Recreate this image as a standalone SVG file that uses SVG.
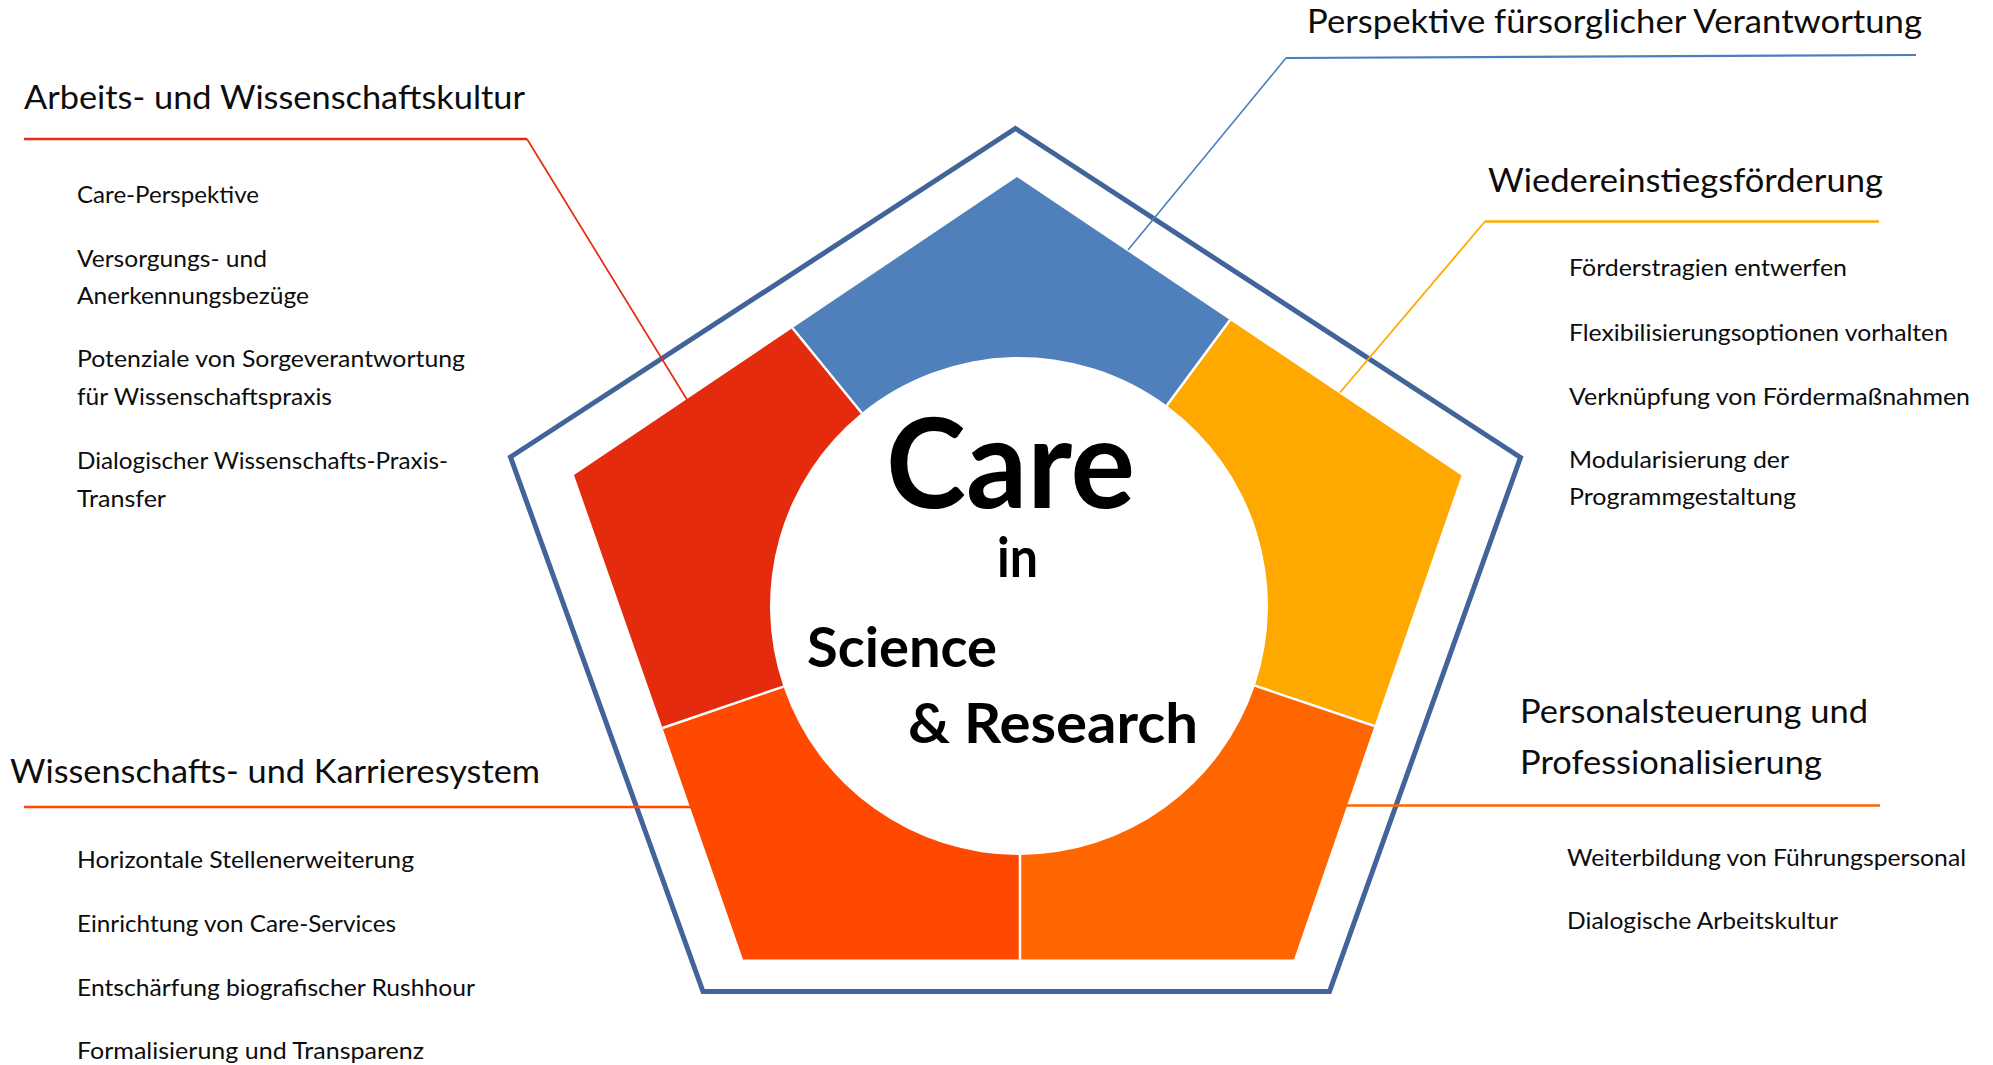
<svg xmlns="http://www.w3.org/2000/svg" width="1993" height="1065" viewBox="0 0 1993 1065">
  <defs>
    <style>
      text { font-family: Lato, "Liberation Sans", "DejaVu Sans", sans-serif; fill: #0d0d0d; }
      .head { font-size: 33px; }
      .item { font-size: 24px; }
      .core { font-weight: 700; fill: #000; }
      .frame { fill: none; stroke: #41649a; stroke-width: 5; stroke-linejoin: miter; }
      .divider { stroke: #ffffff; stroke-width: 2.5; }
      .lead { fill: none; stroke-linecap: butt; stroke-linejoin: miter; }
    </style>
  </defs>

  <rect x="0" y="0" width="1993" height="1065" fill="#ffffff"/>

  <!-- outer frame -->
  <polygon class="frame" points="1015.5,128.5 1520.5,457.5 1329.5,991.5 703,991.5 510.5,457"/>

  <!-- top segment -->
  <g id="perspektive-fuersorglicher-verantwortung">
    <path d="M792.5,328 L1017,177 L1230,320 L1166.8,405.6 A249,249 0 0 0 861.7,413 Z" fill="#4f80bc"/>
    <text class="head" x="1307" y="33" textLength="615" lengthAdjust="spacingAndGlyphs">Perspektive fürsorglicher Verantwortung</text>
  </g>

  <!-- upper right segment -->
  <g id="wiedereinstiegsfoerderung">
    <path d="M1230,320 L1461.5,475.5 L1374.5,726 L1254.9,685.6 A249,249 0 0 0 1166.8,405.6 Z" fill="#ffa800"/>
    <text class="head" x="1488" y="192" textLength="395" lengthAdjust="spacingAndGlyphs">Wiedereinstiegsförderung</text>
    <text class="item" x="1569" y="276" textLength="278" lengthAdjust="spacingAndGlyphs">Förderstragien entwerfen</text>
    <text class="item" x="1569" y="341" textLength="379" lengthAdjust="spacingAndGlyphs">Flexibilisierungsoptionen vorhalten</text>
    <text class="item" x="1569" y="405" textLength="401" lengthAdjust="spacingAndGlyphs">Verknüpfung von Fördermaßnahmen</text>
    <text class="item" x="1569" y="468" textLength="220" lengthAdjust="spacingAndGlyphs">Modularisierung der</text>
    <text class="item" x="1569" y="505" textLength="227" lengthAdjust="spacingAndGlyphs">Programmgestaltung</text>
  </g>

  <!-- lower right segment -->
  <g id="personalsteuerung-professionalisierung">
    <path d="M1374.5,726 L1294,959.5 L1020,959.5 L1020,855 A249,249 0 0 0 1254.9,685.6 Z" fill="#ff6600"/>
    <text class="head" x="1520" y="723" textLength="348" lengthAdjust="spacingAndGlyphs">Personalsteuerung und</text>
    <text class="head" x="1520" y="774" textLength="302" lengthAdjust="spacingAndGlyphs">Professionalisierung</text>
    <text class="item" x="1567" y="866" textLength="399" lengthAdjust="spacingAndGlyphs">Weiterbildung von Führungspersonal</text>
    <text class="item" x="1567" y="929" textLength="271" lengthAdjust="spacingAndGlyphs">Dialogische Arbeitskultur</text>
  </g>

  <!-- lower left segment -->
  <g id="wissenschafts-karrieresystem">
    <path d="M1020,959.5 L743,959.5 L662.5,728 L783.4,686.6 A249,249 0 0 0 1020,855 Z" fill="#ff4800"/>
    <text class="head" x="10" y="783" textLength="530" lengthAdjust="spacingAndGlyphs">Wissenschafts- und Karrieresystem</text>
    <text class="item" x="77" y="868" textLength="337" lengthAdjust="spacingAndGlyphs">Horizontale Stellenerweiterung</text>
    <text class="item" x="77" y="932" textLength="319" lengthAdjust="spacingAndGlyphs">Einrichtung von Care-Services</text>
    <text class="item" x="77" y="996" textLength="398" lengthAdjust="spacingAndGlyphs">Entschärfung biografischer Rushhour</text>
    <text class="item" x="77" y="1059" textLength="347" lengthAdjust="spacingAndGlyphs">Formalisierung und Transparenz</text>
  </g>

  <!-- upper left segment -->
  <g id="arbeits-wissenschaftskultur">
    <path d="M662.5,728 L574,475 L792.5,328 L861.7,413 A249,249 0 0 0 783.4,686.6 Z" fill="#e52b0e"/>
    <text class="head" x="24" y="109" textLength="501" lengthAdjust="spacingAndGlyphs">Arbeits- und Wissenschaftskultur</text>
    <text class="item" x="77" y="203" textLength="182" lengthAdjust="spacingAndGlyphs">Care-Perspektive</text>
    <text class="item" x="77" y="267" textLength="190" lengthAdjust="spacingAndGlyphs">Versorgungs- und</text>
    <text class="item" x="77" y="304" textLength="232" lengthAdjust="spacingAndGlyphs">Anerkennungsbezüge</text>
    <text class="item" x="77" y="367" textLength="388" lengthAdjust="spacingAndGlyphs">Potenziale von Sorgeverantwortung</text>
    <text class="item" x="77" y="405" textLength="255" lengthAdjust="spacingAndGlyphs">für Wissenschaftspraxis</text>
    <text class="item" x="77" y="469" textLength="371" lengthAdjust="spacingAndGlyphs">Dialogischer Wissenschafts-Praxis-</text>
    <text class="item" x="77" y="507" textLength="89" lengthAdjust="spacingAndGlyphs">Transfer</text>
  </g>

  <!-- white gaps between segments -->
  <g id="dividers" class="divider">
    <line x1="792.5" y1="328" x2="861.7" y2="413"/>
    <line x1="1230" y1="320" x2="1166.8" y2="405.6"/>
    <line x1="1374.5" y1="726" x2="1254.9" y2="685.6"/>
    <line x1="1020" y1="959.5" x2="1020" y2="855"/>
    <line x1="662.5" y1="728" x2="783.4" y2="686.6"/>
  </g>

  <!-- central title -->
  <g id="center">
    <text class="core" x="886" y="508" font-size="125" textLength="249" lengthAdjust="spacingAndGlyphs">Care</text>
    <text class="core" x="997" y="577" font-size="55" textLength="41" lengthAdjust="spacingAndGlyphs">in</text>
    <text class="core" x="807" y="667" font-size="55" textLength="190" lengthAdjust="spacingAndGlyphs">Science</text>
    <text class="core" x="908" y="743" font-size="55" textLength="290" lengthAdjust="spacingAndGlyphs">&amp; Research</text>
  </g>

  <!-- leader lines from headings to segments -->
  <g id="connectors" class="lead">
    <path d="M24,139 H527" stroke="#e52b0e" stroke-width="2.5"/>
    <path d="M527,139 L687.5,400.5" stroke="#e52b0e" stroke-width="1.7"/>
    <path d="M1286,58 L1916,55" stroke="#4a7ebf" stroke-width="2.2"/>
    <path d="M1286,58 L1128,250" stroke="#4a7ebf" stroke-width="1.6"/>
    <path d="M1485,221.5 H1879" stroke="#ffa800" stroke-width="2.5"/>
    <path d="M1485,221.5 L1340,392.5" stroke="#ffa800" stroke-width="1.8"/>
    <path d="M24,807 H691" stroke="#ff4800" stroke-width="2.5"/>
    <path d="M1344,805.5 H1880" stroke="#ff6600" stroke-width="2.5"/>
  </g>
</svg>
